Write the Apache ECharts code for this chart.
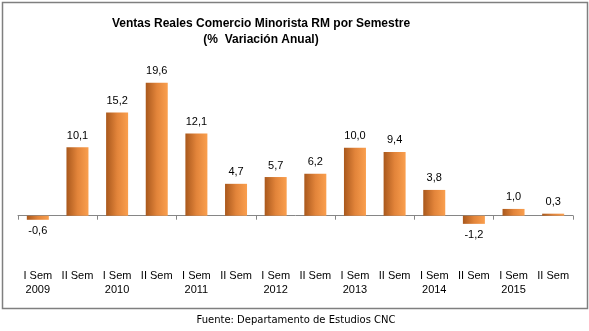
<!DOCTYPE html>
<html>
<head>
<meta charset="utf-8">
<script src="https://cdn.jsdelivr.net/npm/echarts@6/dist/echarts.min.js"></script>
<style>
html,body{margin:0;padding:0;background:#fff;}
#chart{width:589px;height:331px;}
</style>
</head>
<body>
<div id="chart"></div>
<script>
var categories = ['I Sem\n2009','II Sem','I Sem\n2010','II Sem','I Sem\n2011','II Sem','I Sem\n2012','II Sem','I Sem\n2013','II Sem','I Sem\n2014','II Sem','I Sem\n2015','II Sem'];
var values = [-0.6, 10.1, 15.2, 19.6, 12.1, 4.7, 5.7, 6.2, 10.0, 9.4, 3.8, -1.2, 1.0, 0.3];
var titleLines = ['Ventas Reales Comercio Minorista RM por Semestre', '(%  Variación Anual)'];
var footer = 'Fuente: Departamento de Estudios CNC';

var chart = echarts.init(document.getElementById('chart'), null, {renderer:'canvas'});
var barColor = new echarts.graphic.LinearGradient(0,0,1,0,[
  {offset:0, color:'#a9581c'},
  {offset:0.5, color:'#e2843a'},
  {offset:1, color:'#fa9f4e'}
]);
var font = 'Liberation Sans, Arial, sans-serif';
var data = values.map(function(v){
  return v < 0 ? {value:v, label:{position:'bottom'}} : v;
});
chart.setOption({
  animation:false,
  backgroundColor:'#fff',
  grid:{left:18, right:16, top:80, bottom:61, containLabel:false},
  xAxis:[{
    type:'category', data:categories,
    axisLine:{onZero:true, lineStyle:{color:'#868686', width:1}},
    axisTick:{show:true, length:4, lineStyle:{color:'#868686'}},
    axisLabel:{show:false},
    splitLine:{show:false}
  },{
    type:'category', data:categories, position:'bottom',
    axisLine:{show:false, onZero:false}, axisTick:{show:false},
    axisLabel:{show:true, interval:0, margin:-1, color:'#000', fontFamily:font, fontSize:11, lineHeight:14}
  }],
  yAxis:{type:'value', min:-8, max:20, show:false, splitLine:{show:false}},
  series:[{
    type:'bar', data:data, xAxisIndex:0, barWidth:22,
    itemStyle:{color:barColor},
    label:{
      show:true, color:'#000', fontFamily:font, fontSize:11, distance:6,
      position:'top',
      formatter:function(p){return Number(p.value).toFixed(1).replace('.',',');}
    }
  }],
  graphic:[
    {type:'rect', shape:{x:2.5,y:2.5,width:585,height:306}, style:{fill:'none', stroke:'#7f7f7f', lineWidth:1.5}, silent:true},
    {type:'text', x:261, y:24, style:{text:titleLines[0], font:'bold 12px Liberation Sans, Arial, sans-serif', fill:'#000', textAlign:'center', textVerticalAlign:'middle'}},
    {type:'text', x:261, y:40, style:{text:titleLines[1], font:'bold 12px Liberation Sans, Arial, sans-serif', fill:'#000', textAlign:'center', textVerticalAlign:'middle'}},
    {type:'text', x:296, y:320, style:{text:footer, font:'10px DejaVu Sans, sans-serif', fill:'#000', textAlign:'center', textVerticalAlign:'middle'}}
  ]
});
</script>
</body>
</html>
